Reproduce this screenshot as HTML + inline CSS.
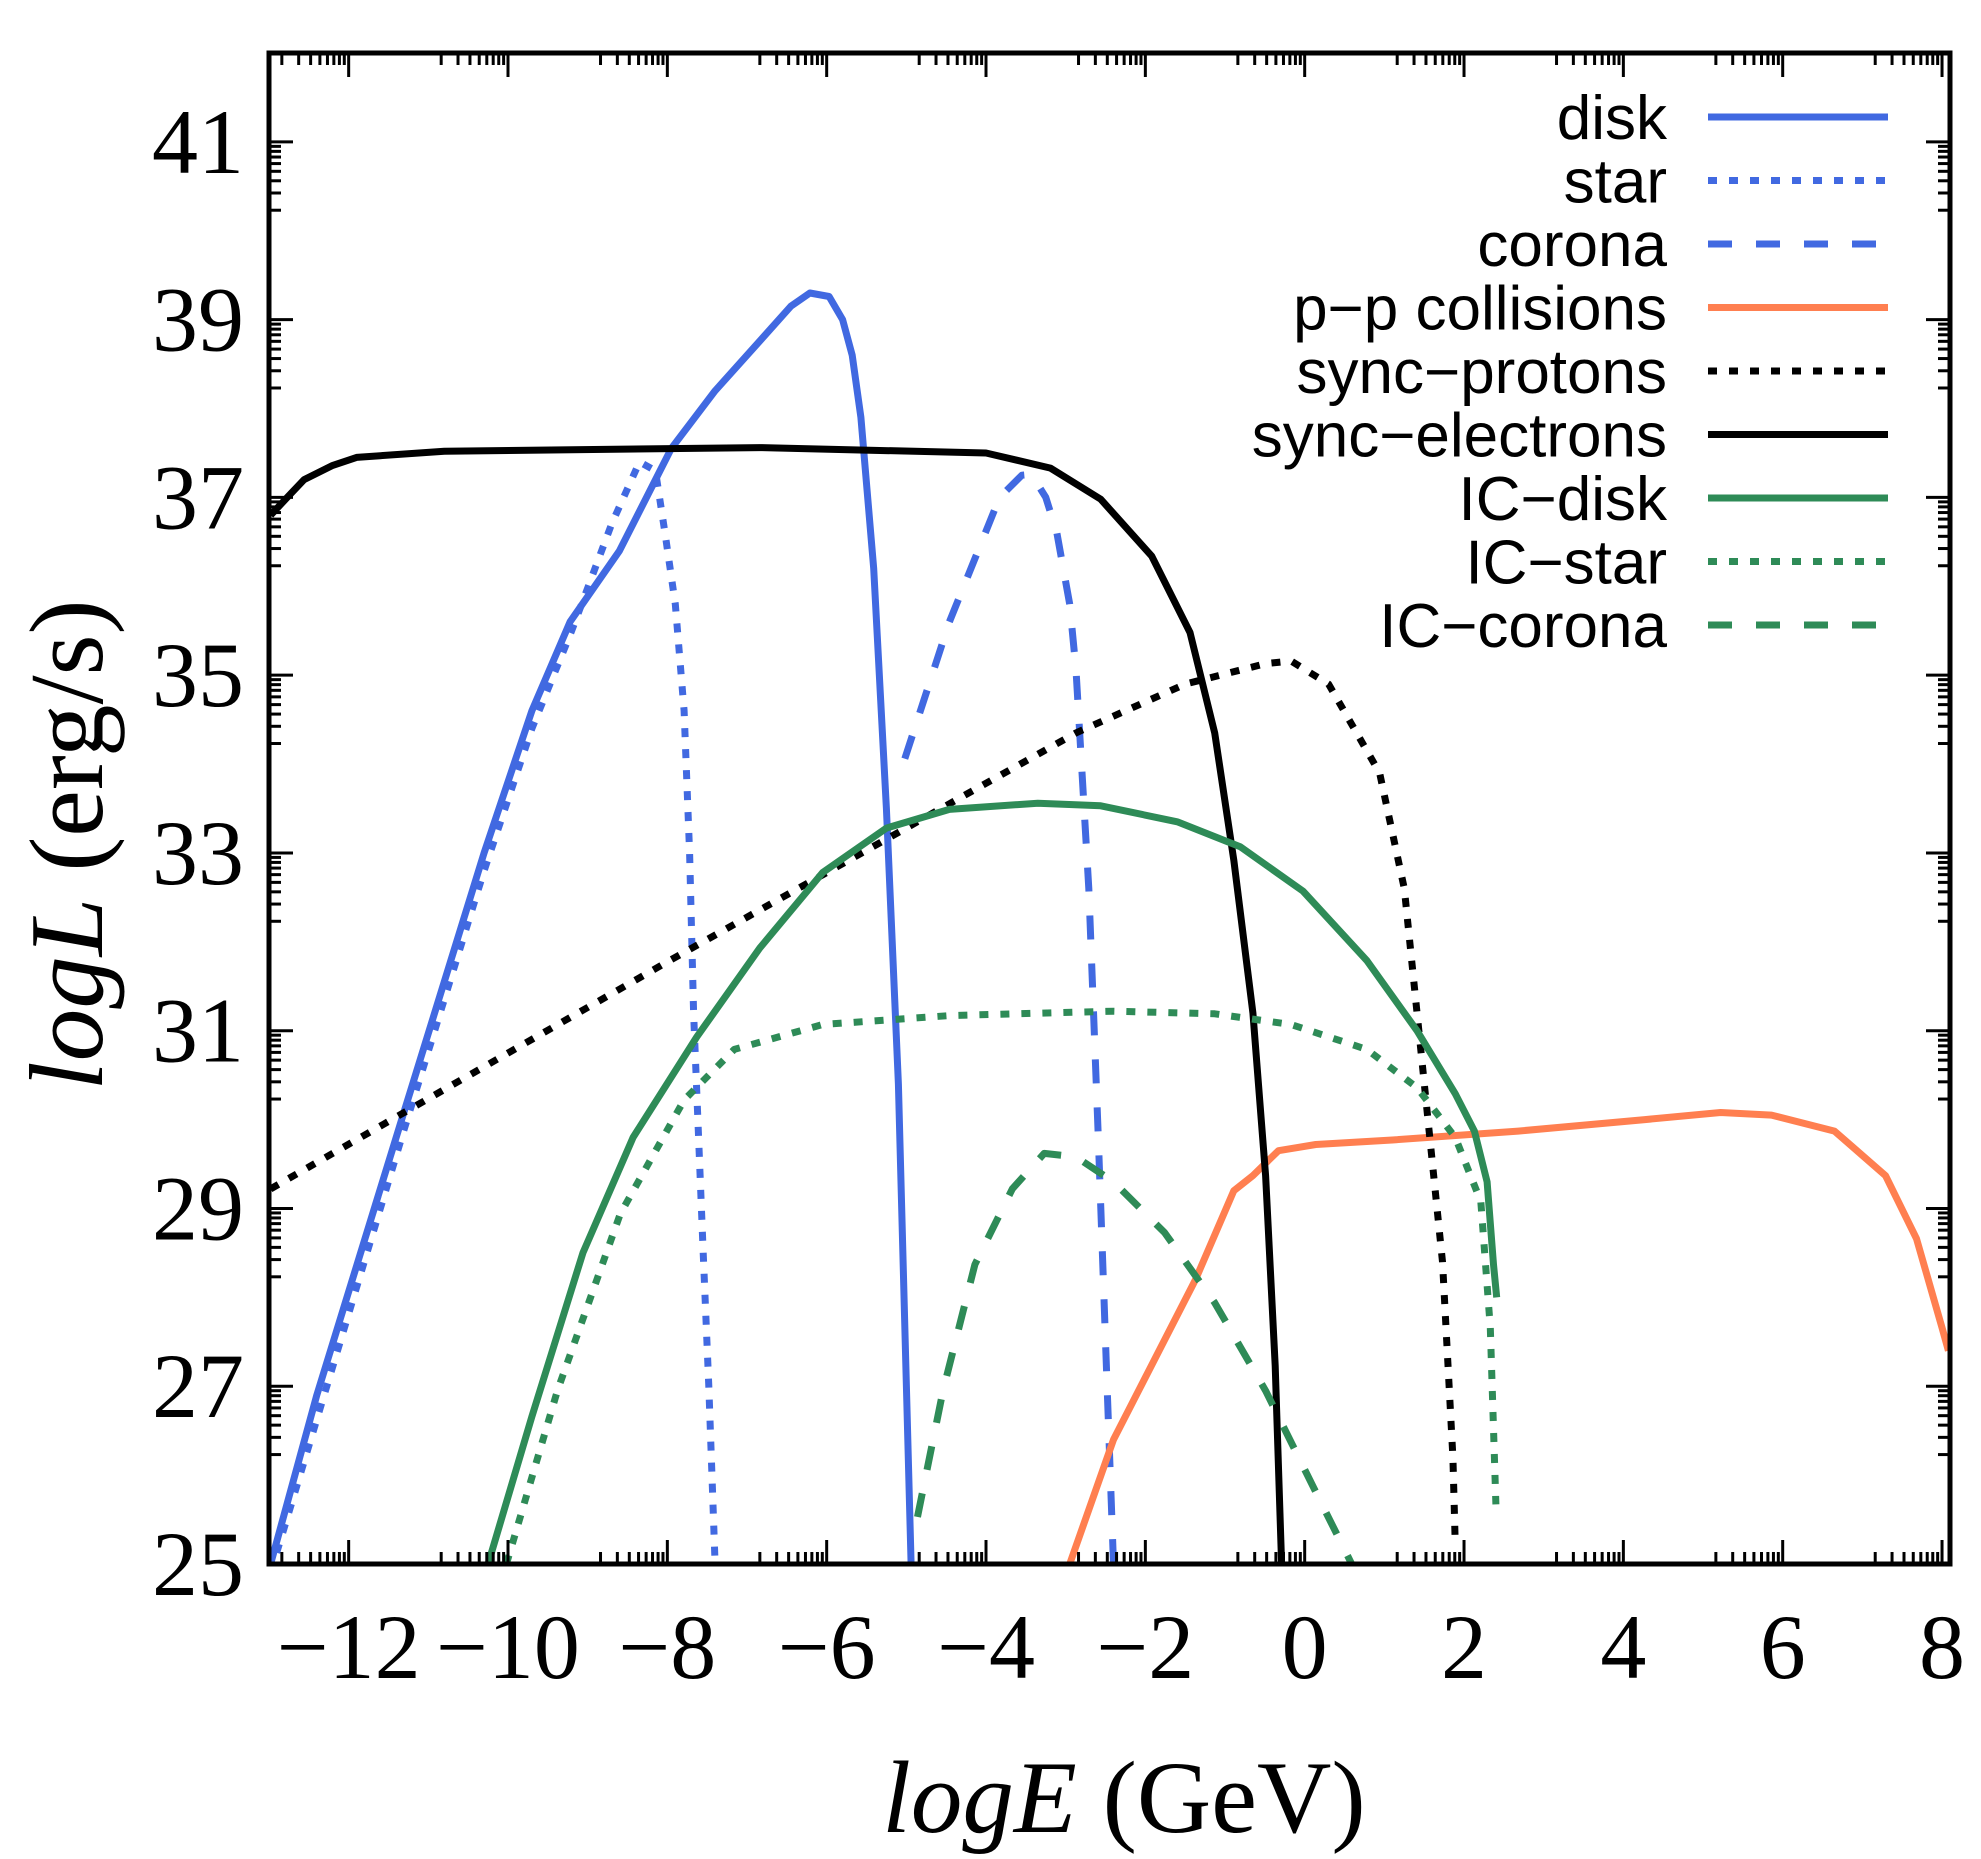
<!DOCTYPE html>
<html><head><meta charset="utf-8"><style>
html,body{margin:0;padding:0;background:#fff;}
svg{display:block;}
.tick{font-family:"Liberation Serif",serif;font-size:92px;fill:#000;}
.leg{font-family:"Liberation Sans",sans-serif;font-size:62px;fill:#000;}
</style></head><body>
<svg id="chart" width="1981" height="1859" viewBox="0 0 1981 1859" xmlns="http://www.w3.org/2000/svg">
<g id="curves"></g>
<g id="axes"></g>
<g id="legend"></g>
<text x="1124" y="1832" text-anchor="middle" font-family="Liberation Serif, serif" font-size="103"><tspan font-style="italic">logE</tspan> (GeV)</text>
<text transform="translate(102,845) rotate(-90)" text-anchor="middle" font-family="Liberation Serif, serif" font-size="105"><tspan font-style="italic">logL</tspan> (erg/s)</text>
</svg>
<script>
const xTicks = [-12,-10,-8,-6,-4,-2,0,2,4,6,8];
const yTicks = [25,27,29,31,33,35,37,39,41];
const diskX = [-12.98,-12.4,-11.3,-10.3,-9.7,-9.22,-8.6,-7.95,-7.4,-6.84,-6.45,-6.21,-5.97,-5.8,-5.68,-5.57,-5.41,-5.25,-5.1,-4.94];
const diskY = [25,26.9,30.1,33.0,34.6,35.6,36.4,37.55,38.2,38.76,39.15,39.3,39.26,39.0,38.6,37.9,36.2,33.5,30.4,25];
const starX = [-12.98,-11.3,-10.3,-9.7,-9.2,-8.7,-8.35,-8.15,-8.03,-7.9,-7.79,-7.72,-7.67,-7.55,-7.48,-7.4];
const starY = [24.9,29.9,32.8,34.4,35.5,36.7,37.4,37.3,36.6,35.8,34.6,33.0,31.2,28.5,27,25];
const coronaX = [-5.02,-4.46,-3.83,-3.55,-3.43,-3.25,-3.11,-2.95,-2.87,-2.71,-2.59,-2.48,-2.4];
const coronaY = [34.06,35.6,37.0,37.25,37.26,37.0,36.6,35.8,35.06,32.6,29.8,27,25];
const ppX = [-2.95,-2.4,-1.37,-0.89,-0.65,-0.33,0.14,1.1,2.68,4.27,5.22,5.86,6.65,7.29,7.68,8.0,8.08];
const ppY = [25,26.4,28.2,29.2,29.37,29.65,29.72,29.77,29.87,30.0,30.08,30.05,29.87,29.37,28.66,27.66,27.4];
const spX = [-12.98,-7.95,-2.87,-1.5,-0.49,-0.17,0.3,0.94,1.25,1.49,1.73,1.86,1.89];
const spY = [29.22,31.8,34.35,34.9,35.13,35.16,34.9,33.9,32.6,30.5,28.4,26.2,25.2];
const seX = [-12.98,-12.75,-12.56,-12.2,-11.9,-10.8,-6.84,-4.0,-3.19,-2.56,-1.92,-1.44,-1.13,-0.89,-0.65,-0.49,-0.37,-0.29];
const seY = [36.8,37.02,37.2,37.36,37.45,37.52,37.56,37.5,37.33,36.98,36.34,35.48,34.35,32.92,31.2,29.37,27.23,25];
const icdX = [-10.25,-9.7,-9.06,-8.43,-7.63,-6.84,-6.05,-5.25,-4.46,-3.35,-2.56,-1.6,-0.81,-0.02,0.78,1.41,1.89,2.13,2.29,2.37,2.41];
const icdY = [25,26.66,28.5,29.8,30.93,31.93,32.78,33.28,33.49,33.56,33.53,33.35,33.07,32.57,31.79,31.0,30.29,29.87,29.3,28.37,28.0];
const icsX = [-10.02,-9.38,-8.59,-7.79,-7.16,-6.05,-4.46,-2.4,-1.13,-0.17,0.78,1.41,1.89,2.21,2.33,2.4];
const icsY = [25,26.95,28.94,30.22,30.79,31.07,31.17,31.22,31.19,31.07,30.79,30.36,29.8,29.08,27.66,25.67];
const iccX = [-4.86,-4.54,-4.14,-3.67,-3.27,-2.87,-2.4,-1.76,-1.13,-0.49,0.14,0.59];
const iccY = [25.53,26.95,28.37,29.22,29.62,29.58,29.3,28.73,27.94,26.95,25.81,25];

const X0=269,X1=1950,XMIN=-13,XMAX=8.1,Y0=1564,Y1=53,YMIN=25,YMAX=42;
function sx(v){return X0+(v-XMIN)/(XMAX-XMIN)*(X1-X0);}
function sy(v){return Y0-(v-YMIN)/(YMAX-YMIN)*(Y0-Y1);}
const NS='http://www.w3.org/2000/svg';
const curves=document.getElementById('curves');
const axes=document.getElementById('axes');
const legend=document.getElementById('legend');
const BLUE='#4169e1',ORANGE='#ff7f50',GREEN='#2e8b57',BLACK='#000';
const DOT='9 12',DASH='24 24';
const series=[
 ['disk',diskX,diskY,BLUE,null],
 ['star',starX,starY,BLUE,DOT],
 ['corona',coronaX,coronaY,BLUE,DASH],
 ['p\u2212p collisions',ppX,ppY,ORANGE,null],
 ['sync\u2212protons',spX,spY,BLACK,DOT],
 ['sync\u2212electrons',seX,seY,BLACK,null],
 ['IC\u2212disk',icdX,icdY,GREEN,null],
 ['IC\u2212star',icsX,icsY,GREEN,DOT],
 ['IC\u2212corona',iccX,iccY,GREEN,DASH]
];
const clip=document.createElementNS(NS,'clipPath');clip.setAttribute('id','pc');
const cr=document.createElementNS(NS,'rect');cr.setAttribute('x',X0);cr.setAttribute('y',Y1);cr.setAttribute('width',X1-X0);cr.setAttribute('height',Y0-Y1);
clip.appendChild(cr);curves.appendChild(clip);
curves.setAttribute('clip-path','url(#pc)');
series.forEach((s,i)=>{
  const p=document.createElementNS(NS,'path');
  let d='';s[1].forEach((x,j)=>{d+=(j?'L':'M')+sx(x).toFixed(1)+','+sy(s[2][j]).toFixed(1);});
  p.setAttribute('d',d);p.setAttribute('fill','none');p.setAttribute('stroke',s[3]);p.setAttribute('stroke-width','7');
  p.setAttribute('stroke-linejoin','round');
  if(s[4])p.setAttribute('stroke-dasharray',s[4]);
  
  
  curves.appendChild(p);
  const ly=117+i*63.5;
  const t=document.createElementNS(NS,'text');
  t.setAttribute('class','leg');t.setAttribute('text-anchor','end');
  t.setAttribute('x',1667);t.setAttribute('y',ly+22);
  t.textContent=s[0];
  
  
  legend.appendChild(t);
  const l=document.createElementNS(NS,'line');
  l.setAttribute('x1',1708);l.setAttribute('x2',1888);l.setAttribute('y1',ly);l.setAttribute('y2',ly);
  l.setAttribute('stroke',s[3]);l.setAttribute('stroke-width','7');
  if(s[4])l.setAttribute('stroke-dasharray',s[4]);
  
  
  legend.appendChild(l);
});
function ln(x1,y1,x2,y2,w){const l=document.createElementNS(NS,'line');l.setAttribute('x1',x1);l.setAttribute('y1',y1);l.setAttribute('x2',x2);l.setAttribute('y2',y2);l.setAttribute('stroke','#000');l.setAttribute('stroke-width',w||3);axes.appendChild(l);return l;}
const frame=document.createElementNS(NS,'rect');
frame.setAttribute('x',X0);frame.setAttribute('y',Y1);frame.setAttribute('width',X1-X0);frame.setAttribute('height',Y0-Y1);
frame.setAttribute('fill','none');frame.setAttribute('stroke','#000');frame.setAttribute('stroke-width','5');


axes.appendChild(frame);
const minorK=[2,3,4,5,6,7,8,9];
xTicks.forEach(v=>{
  const x=sx(v);
  ln(x,Y0,x,Y0-24);ln(x,Y1,x,Y1+24);
  minorK.forEach(k=>{const mx=sx(v-1.2*(1-Math.log10(k)));if(mx>X0+2){ln(mx,Y0,mx,Y0-12);ln(mx,Y1,mx,Y1+12);}});
  const t=document.createElementNS(NS,'text');t.setAttribute('class','tick');t.setAttribute('x',x);t.setAttribute('y',1678);t.setAttribute('text-anchor','middle');
  t.textContent=(v<0?'\u2212':'')+Math.abs(v);
  
  
  axes.appendChild(t);
});
yTicks.forEach(v=>{
  const y=sy(v);
  ln(X0,y,X0+24,y);ln(X1,y,X1-24,y);
  minorK.forEach(k=>{const my=sy(v-1.1*(1-Math.log10(k)));if(my<Y0-2){ln(X0,my,X0+12,my);ln(X1,my,X1-12,my);}});
  const t=document.createElementNS(NS,'text');t.setAttribute('class','tick');t.setAttribute('x',244);t.setAttribute('y',y+31);t.setAttribute('text-anchor','end');
  t.textContent=v;
  
  
  axes.appendChild(t);
});
</script>
</body></html>
